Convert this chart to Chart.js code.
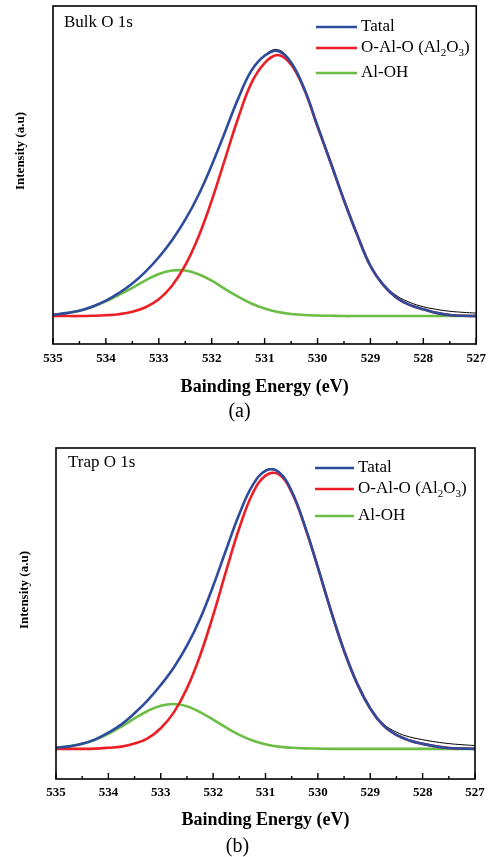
<!DOCTYPE html>
<html>
<head>
<meta charset="utf-8">
<script src="https://cdn.jsdelivr.net/npm/chart.js@4.4.0/dist/chart.umd.min.js"></script>
<style>
  html, body { margin: 0; padding: 0; background: #fff; overflow: hidden; }
  .panel { position: absolute; left: 0; width: 493px; height: 430px; }
</style>
</head>
<body>
<div class="panel" style="top:0"><canvas id="bulkChart"></canvas></div>
<div class="panel" style="top:430px"><canvas id="trapChart"></canvas></div>
<script>
// binding energy (eV), sampled every 0.25 eV
const energy = [535, 534.75, 534.5, 534.25, 534, 533.75, 533.5, 533.25, 533, 532.75, 532.5,
  532.25, 532, 531.75, 531.5, 531.25, 531, 530.75, 530.5, 530.25, 530, 529.75, 529.5,
  529.25, 529, 528.75, 528.5, 528.25, 528, 527.75, 527.5, 527.25, 527];

const tickValues = [535, 534, 533, 532, 531, 530, 529, 528, 527];
const minorTickValues = [534.5, 533.5, 532.5, 531.5, 530.5, 529.5, 528.5, 527.5];
const legendLabels = ['Tatal', 'O-Al-O (Al_2O_3)', 'Al-OH'];

// (a) Bulk O 1s
const bulkTotal = [0.005, 0.011, 0.020, 0.036, 0.058, 0.087, 0.122, 0.167, 0.221, 0.285, 0.362,
  0.455, 0.567, 0.691, 0.817, 0.922, 0.978, 0.996, 0.953, 0.854, 0.714, 0.576, 0.435,
  0.305, 0.188, 0.115, 0.068, 0.041, 0.026, 0.012, 0.004, 0.001, 0.000];
const bulkAl2O3 = [0.000, 0.000, 0.000, 0.001, 0.003, 0.007, 0.016, 0.033, 0.063, 0.114, 0.191,
  0.298, 0.434, 0.589, 0.744, 0.875, 0.950, 0.981, 0.945, 0.850, 0.712, 0.575, 0.435,
  0.305, 0.188, 0.115, 0.068, 0.041, 0.026, 0.012, 0.004, 0.001, 0.000];
const bulkAlOH = [0.005, 0.011, 0.020, 0.035, 0.055, 0.080, 0.106, 0.134, 0.158, 0.171, 0.171,
  0.157, 0.133, 0.102, 0.073, 0.047, 0.028, 0.015, 0.008, 0.004, 0.002, 0.001, 0.000,
  0.000, 0.000, 0.000, 0.000, 0.000, 0.000, 0.000, 0.000, 0.000, 0.000];
const bulkRaw = [0.005, 0.011, 0.020, 0.036, 0.058, 0.087, 0.122, 0.167, 0.221, 0.285, 0.362,
  0.455, 0.567, 0.691, 0.818, 0.924, 0.981, 1.001, 0.956, 0.855, 0.715, 0.577, 0.436,
  0.306, 0.190, 0.119, 0.076, 0.051, 0.035, 0.025, 0.018, 0.014, 0.011];

// (b) Trap O 1s
const trapTotal = [0.004, 0.009, 0.018, 0.034, 0.058, 0.088, 0.128, 0.174, 0.229, 0.292, 0.370,
  0.466, 0.584, 0.715, 0.842, 0.944, 0.997, 0.993, 0.924, 0.800, 0.651, 0.495, 0.352,
  0.234, 0.145, 0.084, 0.050, 0.030, 0.018, 0.009, 0.003, 0.001, 0.000];
const trapAl2O3 = [0.000, 0.000, 0.000, 0.001, 0.004, 0.008, 0.019, 0.038, 0.074, 0.131, 0.217,
  0.334, 0.479, 0.639, 0.792, 0.914, 0.980, 0.985, 0.920, 0.798, 0.650, 0.495, 0.352,
  0.234, 0.145, 0.084, 0.050, 0.030, 0.018, 0.009, 0.003, 0.001, 0.000];
const trapAlOH = [0.004, 0.009, 0.018, 0.033, 0.054, 0.080, 0.109, 0.136, 0.155, 0.161, 0.153,
  0.132, 0.105, 0.076, 0.050, 0.030, 0.017, 0.008, 0.004, 0.002, 0.001, 0.000, 0.000,
  0.000, 0.000, 0.000, 0.000, 0.000, 0.000, 0.000, 0.000, 0.000, 0.000];
const trapRaw = [0.004, 0.009, 0.018, 0.034, 0.058, 0.088, 0.128, 0.174, 0.229, 0.292, 0.370,
  0.466, 0.584, 0.715, 0.843, 0.946, 1.000, 0.996, 0.926, 0.801, 0.652, 0.496, 0.353,
  0.236, 0.148, 0.090, 0.060, 0.043, 0.033, 0.025, 0.019, 0.015, 0.012];

const serif = "'Liberation Serif', 'Times New Roman', Times, serif";
const blue = '#2e4c9d';
const red = '#ec1f26';
const green = '#6bbd45';
const lineColors = [blue, red, green];

// text with "_d" as subscript digits
function drawRich(ctx, text, x, y, size) {
  text.split(/(_\d)/).filter(Boolean).forEach(part => {
    if (part[0] === '_') {
      ctx.font = `${Math.round(size * 0.62)}px ${serif}`;
      ctx.fillText(part.slice(1), x, y + size * 0.3);
      x += ctx.measureText(part.slice(1)).width;
    } else {
      ctx.font = `${size}px ${serif}`;
      ctx.fillText(part, x, y);
      x += ctx.measureText(part).width;
    }
  });
}

const decorPlugin = {
  id: 'decor',
  afterDatasetsDraw(chart, args, p) {
    const { ctx, chartArea: a, scales } = chart;
    ctx.save();
    ctx.strokeStyle = '#000';
    ctx.lineWidth = 1.6;
    ctx.strokeRect(a.left, a.top, a.right - a.left, a.bottom - a.top);

    // inward ticks on bottom axis
    ctx.lineWidth = 1.4;
    ctx.beginPath();
    tickValues.forEach(v => {
      const x = scales.x.getPixelForValue(v);
      ctx.moveTo(x, a.bottom); ctx.lineTo(x, a.bottom - 6);
    });
    minorTickValues.forEach(v => {
      const x = scales.x.getPixelForValue(v);
      ctx.moveTo(x, a.bottom); ctx.lineTo(x, a.bottom - 3);
    });
    ctx.stroke();

    ctx.fillStyle = '#000';
    ctx.textBaseline = 'middle';
    ctx.textAlign = 'left';
    ctx.font = `17px ${serif}`;
    ctx.fillText(p.tag, p.tagX, p.tagY);

    // legend
    legendLabels.forEach((label, i) => {
      const y = p.legendRows[i];
      ctx.strokeStyle = lineColors[i];
      ctx.lineWidth = 2.6;
      ctx.beginPath();
      ctx.moveTo(p.legendX0, y); ctx.lineTo(p.legendX1, y);
      ctx.stroke();
      ctx.fillStyle = '#000';
      drawRich(ctx, label, p.legendTextX, y, 17);
    });

    // y axis title
    ctx.translate(p.yTitleX, p.yTitleY);
    ctx.rotate(-Math.PI / 2);
    ctx.textAlign = 'center';
    ctx.font = `bold 13px ${serif}`;
    ctx.fillText('Intensity (a.u)', 0, 0);
    ctx.restore();
  }
};

function makePanel(id, p) {
  const ctx = document.getElementById(id).getContext('2d');
  const pts = arr => energy.map((e, i) => ({ x: e, y: arr[i] }));
  return new Chart(ctx, {
    type: 'line',
    data: {
      datasets: [
        { label: legendLabels[0], data: pts(p.total), borderColor: blue, order: 0 },
        { label: legendLabels[1], data: pts(p.al2o3), borderColor: red, order: 1 },
        { label: legendLabels[2], data: pts(p.aloh), borderColor: green, order: 2 },
        { label: 'raw', data: pts(p.raw), borderColor: '#000', borderWidth: 1, order: 3 }
      ]
    },
    options: {
      responsive: true,
      maintainAspectRatio: false,
      animation: false,
      datasets: {
        line: { pointRadius: 0, fill: false, borderWidth: 2.6, tension: 0.4 }
      },
      layout: { padding: { left: 0, top: p.areaTop, right: 493 - p.areaRight, bottom: p.padBottom } },
      plugins: {
        legend: { display: false },
        tooltip: { enabled: false },
        title: {
          display: true,
          position: 'bottom',
          text: p.caption,
          color: '#000',
          padding: 0,
          font: { family: serif, size: 20, weight: 'normal', lineHeight: 1.2 }
        },
        decor: p
      },
      scales: {
        x: {
          type: 'linear',
          reverse: true,
          min: 527,
          max: 535,
          afterBuildTicks: s => { s.ticks = tickValues.map(v => ({ value: v })); },
          afterFit: s => { s.height = p.xAxisHeight; },
          grid: { display: false, drawTicks: false },
          border: { display: false },
          ticks: {
            autoSkip: false,
            maxRotation: 0,
            padding: p.tickPad,
            color: '#000',
            font: { family: serif, size: 13, weight: 'bold', lineHeight: 1.2 },
            callback: v => String(v)
          },
          title: {
            display: true,
            text: 'Bainding Energy (eV)',
            color: '#000',
            padding: { top: 0, bottom: p.titlePad },
            font: { family: serif, size: 18, weight: 'bold', lineHeight: 1.2 }
          }
        },
        y: {
          min: p.yMin,
          max: p.yMax,
          afterFit: s => { s.width = p.areaLeft; },
          ticks: { display: false },
          grid: { display: false, drawTicks: false },
          border: { display: false }
        }
      }
    },
    plugins: [decorPlugin]
  });
}

makePanel('bulkChart', {
  total: bulkTotal, al2o3: bulkAl2O3, aloh: bulkAlOH, raw: bulkRaw,
  areaLeft: 53, areaTop: 6, areaRight: 479, padBottom: 6, xAxisHeight: 56,
  tickPad: 7, titlePad: 2, yMin: -0.105, yMax: 1.165, caption: '(a)',
  tag: 'Bulk O 1s', tagX: 64, tagY: 23,
  legendX0: 316, legendX1: 357, legendTextX: 361, legendRows: [27, 48, 73],
  yTitleX: 21, yTitleY: 151
});

makePanel('trapChart', {
  total: trapTotal, al2o3: trapAl2O3, aloh: trapAlOH, raw: trapRaw,
  areaLeft: 56, areaTop: 18, areaRight: 475, padBottom: 1, xAxisHeight: 56,
  tickPad: 6, titlePad: 4, yMin: -0.108, yMax: 1.079, caption: '(b)',
  tag: 'Trap O 1s', tagX: 68, tagY: 33,
  legendX0: 315, legendX1: 354, legendTextX: 358, legendRows: [38, 59, 86],
  yTitleX: 25, yTitleY: 160
});
</script>
</body>
</html>
